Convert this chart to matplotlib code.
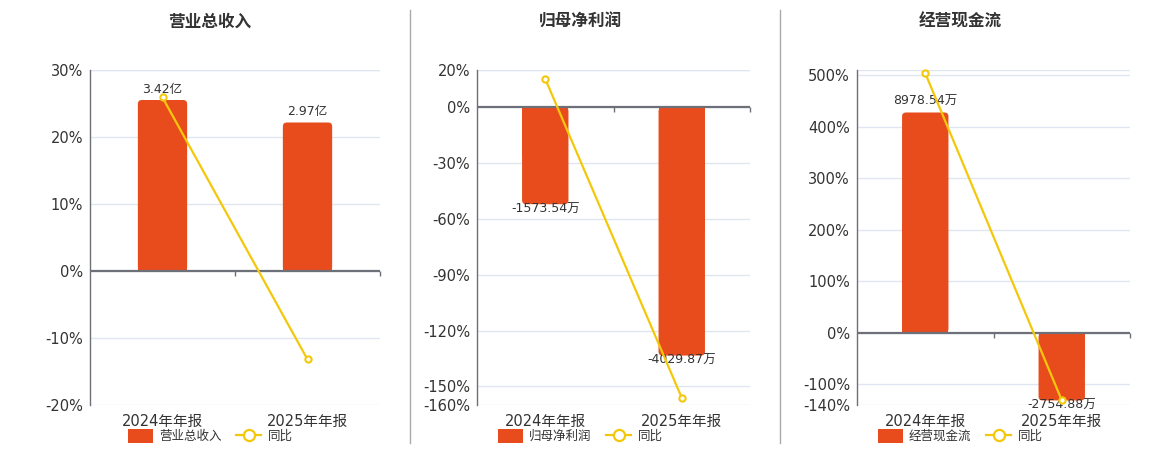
import matplotlib.pyplot as plt
from matplotlib.lines import Line2D
from matplotlib.patches import Patch, FancyBboxPatch

plt.rcParams['font.family'] = ['DejaVu Sans', 'Noto Sans CJK SC']

# data
categories = ['2024年年报', '2025年年报']

revenue = [3.42, 2.97]            # 亿
revenue_yoy = [25.9, -13.2]       # %
profit = [-1573.54, -4029.87]     # 万
profit_yoy = [15.2, -156.1]
cashflow = [8978.54, -2754.88]    # 万
cashflow_yoy = [503.7, -130.7]

titles = ['营业总收入', '归母净利润', '经营现金流']
bar_names = ['营业总收入', '归母净利润', '经营现金流']
units = ['亿', '万', '万']

pct_ticks = [
    [30, 20, 10, 0, -10, -20],
    [20, 0, -30, -60, -90, -120, -150, -160],
    [500, 400, 300, 200, 100, 0, -100, -140],
]
pct_lims = [(-20, 30), (-160, 20), (-140, 510)]
bar_scale = [0.134, 30.2, 21.0]   # bar units per percent point

BAR = '#e84c1d'
LINE = '#f4c80a'
AXIS = '#6e7079'
GRID = '#e0e6f1'
TXT = '#333333'

W, H = 1160, 450
fig = plt.figure(figsize=(W / 100, H / 100), dpi=100)

panels = [(90, 380), (477, 750), (857, 1130)]
centers = [210, 580, 960]
top_px, bot_px = 70, 405
bar_w = 0.34
radius_px = 4

series = [(revenue, revenue_yoy), (profit, profit_yoy), (cashflow, cashflow_yoy)]

for i, (bars, yoy) in enumerate(series):
    l, r = panels[i]
    rect = [l / W, 1 - bot_px / H, (r - l) / W, (bot_px - top_px) / H]
    ax = fig.add_axes(rect)
    lo, hi = pct_lims[i]
    ax.set_xlim(-0.5, 1.5)
    ax.set_ylim(lo, hi)
    ax.set_yticks(pct_ticks[i])
    ax.set_yticklabels([f'{t}%' for t in pct_ticks[i]])
    ax.set_xticks([0, 1])
    ax.set_xticklabels(categories)
    ax.tick_params(axis='y', length=0, pad=5, labelsize=10.5, labelcolor=TXT)
    ax.tick_params(axis='x', length=0, pad=6.5, labelsize=10.5, labelcolor=TXT)
    for t in pct_ticks[i]:
        ax.axhline(t, color=GRID, lw=1, zorder=0)
    ax.axhline(hi, color=GRID, lw=1, zorder=0)
    for s in ['top', 'right', 'bottom']:
        ax.spines[s].set_visible(False)
    ax.spines['left'].set_color(AXIS)
    ax.spines['left'].set_linewidth(1)

    # bars on hidden twin axis, rounded at the outer end
    axb = ax.twinx()
    k = bar_scale[i]
    axb.set_ylim(lo * k, hi * k)
    axb.axis('off')
    x_per_px = 2.0 / (r - l)
    y_per_px = (hi - lo) * k / (bot_px - top_px)
    rad = radius_px * x_per_px
    base = axb.bar([0, 1], [v / 2 for v in bars], width=bar_w, color=BAR, linewidth=0)
    for x, v in enumerate(bars):
        y0 = min(0, v)
        axb.add_patch(FancyBboxPatch((x - bar_w / 2, y0), bar_w, abs(v),
                                     boxstyle=f'round,pad=0,rounding_size={rad}',
                                     mutation_aspect=y_per_px / x_per_px,
                                     facecolor=BAR, edgecolor='none'))
        txt = f'{v:g}{units[i]}' if i == 0 else f'{v:.2f}{units[i]}'
        if v >= 0:
            axb.annotate(txt, (x, v), xytext=(0, 3), textcoords='offset points',
                         ha='center', va='bottom', fontsize=9, color=TXT)
        else:
            axb.annotate(txt, (x, v), xytext=(0, 1), textcoords='offset points',
                         ha='center', va='top', fontsize=9, color=TXT)

    # zero axis line, yoy line on top
    axl = ax.twinx()
    axl.set_ylim(lo, hi)
    axl.axis('off')
    tick_len = (hi - lo) / (bot_px - top_px) * 5
    axl.axhline(0, color=AXIS, lw=1.6)
    axl.vlines([0.5, 1.5], 0, -tick_len, color=AXIS, lw=1, clip_on=False)
    axl.plot([0, 1], yoy, color=LINE, lw=1.6, marker='o', markersize=4.5,
             markerfacecolor='white', markeredgecolor=LINE, markeredgewidth=1.5,
             clip_on=False)

    fig.text(centers[i] / W, 1 - 22 / H, titles[i], ha='center', va='center',
             fontsize=12, fontweight='bold', color=TXT)

    handles = [Patch(facecolor=BAR, edgecolor='none'),
               Line2D([], [], color=LINE, lw=1.6, marker='o', markersize=8,
                      markerfacecolor='white', markeredgewidth=1.6)]
    fig.legend(handles, [bar_names[i], '同比'], loc='center',
               bbox_to_anchor=(centers[i] / W, 1 - 436 / H), ncol=2, frameon=False,
               fontsize=9, labelcolor=TXT, handlelength=2.0, handleheight=1.3,
               columnspacing=1.2, handletextpad=0.5)

for x in (410, 780):
    fig.add_artist(Line2D([x / W, x / W], [1 - 10 / H, 1 - 443 / H],
                          color='#aaaaaa', lw=1, transform=fig.transFigure))

fig.savefig('out.png', dpi=100)
